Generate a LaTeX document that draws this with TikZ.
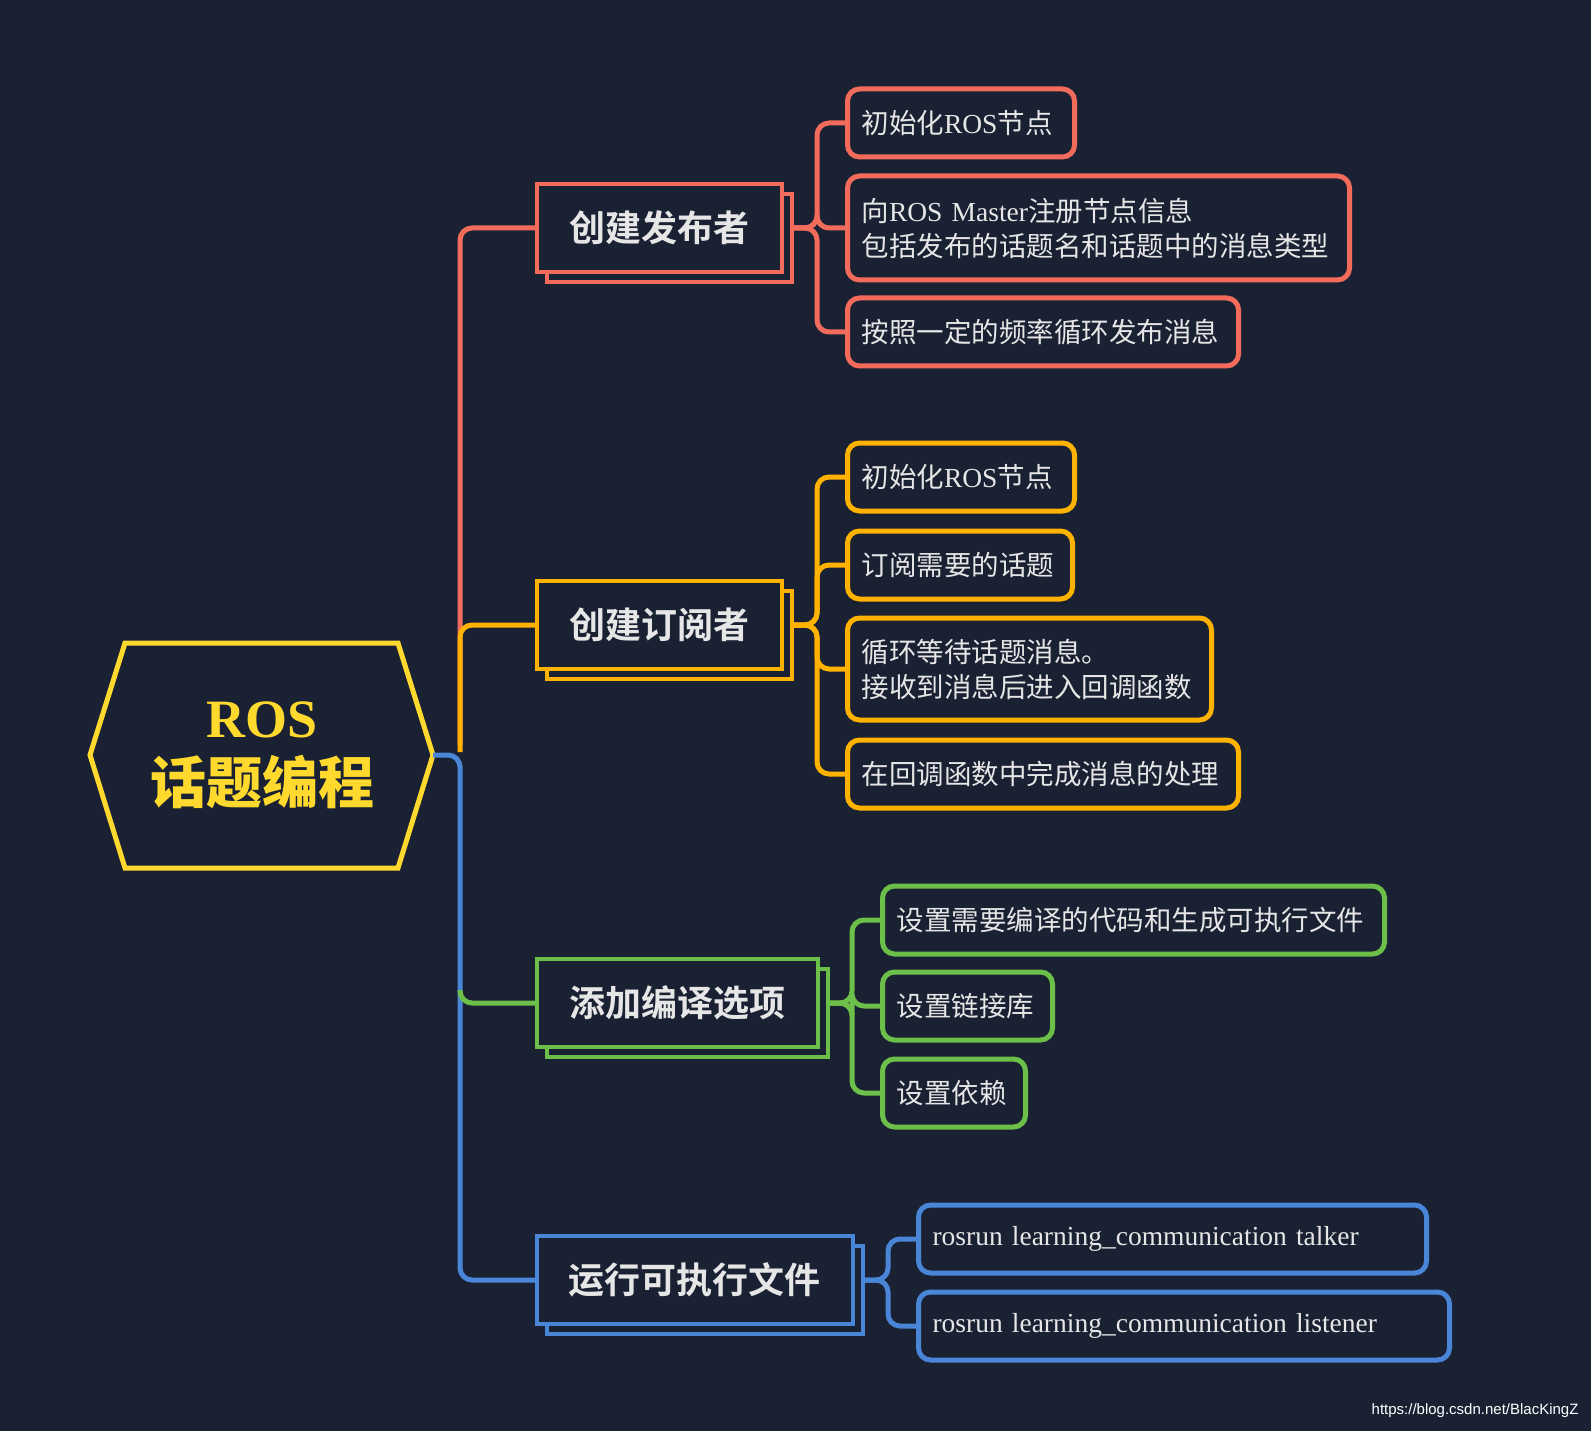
\documentclass[tikz,border=0pt]{standalone}
\usepackage{fontspec}
\setmainfont{Liberation Serif}
\setsansfont{Liberation Sans}
\newfontfamily\cjk{Noto Sans CJK SC}
\newfontfamily\cjkb{Noto Sans CJK SC Bold}
\usetikzlibrary{positioning}
\definecolor{bg}{HTML}{1A2133}
\definecolor{cred}{HTML}{F26B5B}
\definecolor{corange}{HTML}{FFB300}
\definecolor{cgreen}{HTML}{6CC04A}
\definecolor{cblue}{HTML}{4A86D8}
\definecolor{cyel}{HTML}{FFD92E}
\definecolor{txt}{HTML}{E6E6E6}
\newcommand\zh[1]{{\cjk #1}}
\begin{document}
\begin{tikzpicture}[x=1pt,y=-1pt,
  leaf/.style={draw=#1, rounded corners=12pt, line width=5pt, minimum height=68pt,
    anchor=west, align=left, inner xsep=14pt, text=txt,
    font=\fontsize{27.5}{35}\selectfont},
  branch/.style={draw=#1, fill=bg, line width=3.5pt, minimum height=88pt, anchor=west,
    inner xsep=32pt, text=txt, font=\cjkb\fontsize{36}{40}\selectfont},
  shade/.style={draw=#1, line width=3.5pt, minimum height=88pt, anchor=west},
  link/.style={line width=5pt, rounded corners=12pt}]
  \useasboundingbox[fill=bg] (0,0) rectangle (1591,1431);

  % root
  \draw[cyel, line width=5pt] (90,755) -- (125,643) -- (398,643) -- (433,755)
    -- (398,868) -- (125,868) -- cycle;
  \node[align=center, text=cyel, font=\bfseries\fontsize{54}{60}\selectfont] (root) at (262,755)
    {ROS\\[6pt]{\cjkb\fontsize{56}{62}\selectfont 话题编程}};
  \coordinate (rootE) at (433,755);
  \coordinate (t) at (460,755);

  % branches (shadow first)
  \node[shade=cred, minimum width=245pt] (s1) at (545,238) {};
  \node[branch=cred, minimum width=245pt] (b1) at (535,228) {创建发布者};
  \node[shade=corange, minimum width=245pt] (s2) at (545,635) {};
  \node[branch=corange, minimum width=245pt] (b2) at (535,625) {创建订阅者};
  \node[shade=cgreen, minimum width=281pt] (s3) at (545,1013) {};
  \node[branch=cgreen, minimum width=281pt] (b3) at (535,1003) {添加编译选项};
  \node[shade=cblue, minimum width=316pt] (s4) at (545,1290) {};
  \node[branch=cblue, minimum width=316pt] (b4) at (535,1280) {运行可执行文件};

  % trunk
  \draw[link, cred] (460,745) |- (b1.west);
  \draw[link, corange] (460,752) |- (b2.west);
  \draw[link, cblue] (rootE) -- (t) |- (b4.west);
  \draw[link, cgreen] (460,990) |- (b3.west);

  % leaves: publisher
  \node[leaf=cred, text width=199pt] (p1) at (845,123) {\zh{初始化}ROS\zh{节点}};
  \node[leaf=cred, text width=474pt, minimum height=104pt] (p2) at (845,228)
    {\zh{向}ROS Master\zh{注册节点信息}\\\zh{包括发布的话题名和话题中的消息类型}};
  \node[leaf=cred, text width=363pt] (p3) at (845,332) {\zh{按照一定的频率循环发布消息}};
  \foreach \n in {p1,p2,p3}
    \draw[link, cred] (s1.east |- b1) -- (817,228) |- (\n.west);

  % leaves: subscriber
  \node[leaf=corange, text width=199pt] (q1) at (845,477) {\zh{初始化}ROS\zh{节点}};
  \node[leaf=corange, text width=197pt] (q2) at (845,565) {\zh{订阅需要的话题}};
  \node[leaf=corange, text width=336pt, minimum height=102pt] (q3) at (845,669)
    {\zh{循环等待话题消息。}\\\zh{接收到消息后进入回调函数}};
  \node[leaf=corange, text width=363pt] (q4) at (845,774) {\zh{在回调函数中完成消息的处理}};
  \foreach \n in {q1,q2,q3,q4}
    \draw[link, corange] (s2.east |- b2) -- (817,625) |- (\n.west);

  % leaves: build options
  \node[leaf=cgreen, text width=474pt] (g1) at (880,920) {\zh{设置需要编译的代码和生成可执行文件}};
  \node[leaf=cgreen, text width=142pt] (g2) at (880,1006) {\zh{设置链接库}};
  \node[leaf=cgreen, text width=115pt] (g3) at (880,1093) {\zh{设置依赖}};
  \foreach \n in {g1,g2,g3}
    \draw[link, cgreen] (s3.east |- b3) -- (852,1003) |- (\n.west);

  % leaves: run
  \node[leaf=cblue, text width=480pt] (r1) at (916,1239) {rosrun learning\_communication talker};
  \node[leaf=cblue, text width=503pt] (r2) at (916,1326) {rosrun learning\_communication listener};
  \foreach \n in {r1,r2}
    \draw[link, cblue] (s4.east |- b4) -- (888,1280) |- (\n.west);

  \node[anchor=east, text=white, font=\sffamily\fontsize{15}{18}\selectfont] (mark) at (1582,1411)
    {https://blog.csdn.net/BlacKingZ};
\end{tikzpicture}
\end{document}
